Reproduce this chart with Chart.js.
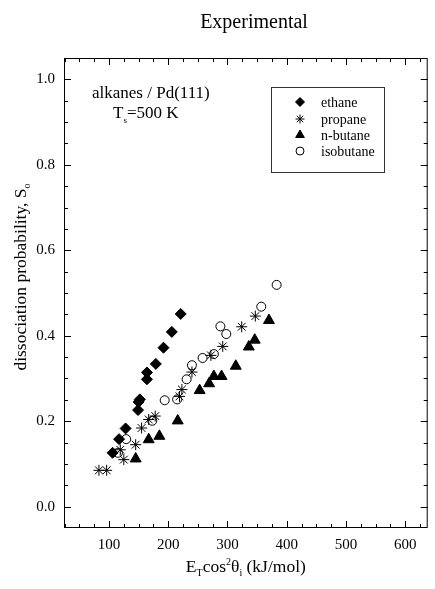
<!DOCTYPE html>
<html>
<head>
<meta charset="utf-8">
<title>Experimental</title>
<script src="https://cdn.jsdelivr.net/npm/chart.js@4.4.1/dist/chart.umd.min.js"></script>
<style>
  html, body { margin: 0; padding: 0; background: #fff; }
  #wrap { width: 435px; height: 589px; }
</style>
</head>
<body>
<div id="wrap"><canvas id="dissociationChart" width="435" height="589"></canvas></div>
<script>
// Values (E_T cos^2 theta_i in kJ/mol, S_o)
const ethaneX = [106, 117, 128, 149, 152, 150, 164, 164, 179, 192, 206, 221];
const ethaneY = [0.126, 0.158, 0.183, 0.226, 0.251, 0.245, 0.298, 0.314, 0.334, 0.372, 0.409, 0.451];

const propaneX = [83, 96, 119, 125, 145, 155, 167, 178, 219, 223, 240, 272, 292, 324, 347];
const propaneY = [0.085, 0.085, 0.133, 0.110, 0.145, 0.184, 0.204, 0.212, 0.258, 0.274, 0.315, 0.354, 0.375, 0.421, 0.446];

const nbutaneX = [145, 167, 185, 216, 253, 269, 277, 290, 314, 336, 346, 370];
const nbutaneY = [0.112, 0.157, 0.165, 0.201, 0.272, 0.288, 0.305, 0.305, 0.329, 0.374, 0.390, 0.436];

const isobutaneX = [115, 129, 173, 194, 215, 231, 240, 258, 277, 288, 298, 357, 383];
const isobutaneY = [0.126, 0.158, 0.201, 0.249, 0.251, 0.298, 0.331, 0.348, 0.357, 0.422, 0.404, 0.468, 0.519];

const seriesNames = ['ethane', 'propane', 'n-butane', 'isobutane'];
const xTickValues = [100, 200, 300, 400, 500, 600];
const yTickValues = [0.0, 0.2, 0.4, 0.6, 0.8, 1.0];

const serif = "'Liberation Serif', 'DejaVu Serif', serif";

function toPoints(xs, ys) {
  return xs.map((x, i) => ({ x: x, y: ys[i] }));
}

// draw a run of text pieces (sub/superscripts) starting at x
function drawRuns(ctx, runs, x, y) {
  let cx = x;
  runs.forEach(r => {
    ctx.font = r.size + 'px ' + serif;
    ctx.fillText(r.t, cx, y + (r.dy || 0));
    cx += ctx.measureText(r.t).width;
  });
}

function runsWidth(ctx, runs) {
  let w = 0;
  runs.forEach(r => {
    ctx.font = r.size + 'px ' + serif;
    w += ctx.measureText(r.t).width;
  });
  return w;
}

// frame with inward ticks on all four sides
const frameTicks = {
  id: 'frameTicks',
  afterDraw(chart) {
    const { ctx, chartArea: a, scales: { x, y } } = chart;
    ctx.save();
    ctx.strokeStyle = '#000';
    ctx.lineWidth = 1;
    ctx.strokeRect(a.left + 0.5, a.top + 0.5, a.right - a.left - 1, a.bottom - a.top - 1);
    ctx.beginPath();
    for (let v = 25; v < x.max; v += 25) {
      if (v <= x.min) continue;
      const px = Math.round(x.getPixelForValue(v)) + 0.5;
      const len = v % 100 === 0 ? 7 : 4;
      ctx.moveTo(px, a.bottom); ctx.lineTo(px, a.bottom - len);
      ctx.moveTo(px, a.top); ctx.lineTo(px, a.top + len);
    }
    for (let i = 0; i <= 20; i++) {
      const py = Math.round(y.getPixelForValue(i * 0.05)) + 0.5;
      const len = i % 4 === 0 ? 7 : 4;
      ctx.moveTo(a.left, py); ctx.lineTo(a.left + len, py);
      ctx.moveTo(a.right, py); ctx.lineTo(a.right - len, py);
    }
    ctx.stroke();
    ctx.restore();
  }
};

// titles, annotation and boxed legend
const labels = {
  id: 'labels',
  afterDraw(chart) {
    const { ctx, chartArea: a } = chart;
    ctx.save();
    ctx.fillStyle = '#000';
    ctx.textBaseline = 'alphabetic';

    ctx.textAlign = 'center';
    ctx.font = '20px ' + serif;
    ctx.fillText('Experimental', 254, 28);

    ctx.textAlign = 'left';
    const xTitle = [
      { t: 'E', size: 17.5 }, { t: 'T', size: 10, dy: 4 }, { t: 'cos', size: 17.5 },
      { t: '2', size: 10, dy: -7 }, { t: '\u03b8', size: 17.5 }, { t: 'i', size: 10, dy: 4 },
      { t: ' (kJ/mol)', size: 17.5 }
    ];
    const cx = (a.left + a.right) / 2;
    drawRuns(ctx, xTitle, cx - runsWidth(ctx, xTitle) / 2, 572);

    const yTitle = [{ t: 'dissociation probability, S', size: 17.5 }, { t: 'o', size: 10, dy: 4 }];
    ctx.save();
    ctx.translate(26, 277);
    ctx.rotate(-Math.PI / 2);
    drawRuns(ctx, yTitle, -runsWidth(ctx, yTitle) / 2, 0);
    ctx.restore();

    ctx.font = '17px ' + serif;
    ctx.fillText('alkanes / Pd(111)', 92, 98);
    drawRuns(ctx, [{ t: 'T', size: 17 }, { t: 's', size: 9, dy: 5 }, { t: '=500 K', size: 17 }], 113, 118);

    // legend
    ctx.strokeStyle = '#333';
    ctx.lineWidth = 1;
    ctx.strokeRect(271.5, 87.5, 113, 85);
    const rowY = [102, 119, 135, 151];
    const sizes = [4.5, 4.5, 5, 4];
    chart.data.datasets.forEach((ds, i) => {
      ctx.fillStyle = ds.backgroundColor;
      ctx.strokeStyle = ds.borderColor;
      ctx.lineWidth = 1;
      Chart.helpers.drawPoint(ctx, {
        pointStyle: ds.pointStyle, radius: sizes[i], rotation: 0, borderWidth: 1
      }, 300, rowY[i]);
      ctx.fillStyle = '#000';
      ctx.font = '14px ' + serif;
      ctx.fillText(seriesNames[i], 321, rowY[i] + 4.5);
    });
    ctx.restore();
  }
};

function initializeChart() {
  const ctx = document.getElementById('dissociationChart');
  if (!ctx) return;

  new Chart(ctx, {
    type: 'scatter',
    data: {
      datasets: [
        {
          label: seriesNames[0],
          data: toPoints(ethaneX, ethaneY),
          pointStyle: 'rectRot',
          pointRadius: 5.5,
          backgroundColor: '#000',
          borderColor: '#000',
          borderWidth: 1
        },
        {
          label: seriesNames[1],
          data: toPoints(propaneX, propaneY),
          pointStyle: 'star',
          pointRadius: 5.5,
          backgroundColor: '#000',
          borderColor: '#000',
          borderWidth: 1
        },
        {
          label: seriesNames[2],
          data: toPoints(nbutaneX, nbutaneY),
          pointStyle: 'triangle',
          pointRadius: 6.3,
          backgroundColor: '#000',
          borderColor: '#000',
          borderWidth: 1
        },
        {
          label: seriesNames[3],
          data: toPoints(isobutaneX, isobutaneY),
          pointStyle: 'circle',
          pointRadius: 4.5,
          backgroundColor: '#fff',
          borderColor: '#000',
          borderWidth: 1
        }
      ]
    },
    options: {
      responsive: false,
      animation: false,
      events: [],
      layout: { padding: { left: 0, right: 6, top: 58, bottom: 0 } },
      plugins: {
        legend: { display: false },
        title: { display: false },
        tooltip: { enabled: false }
      },
      scales: {
        x: {
          type: 'linear',
          min: 24,
          max: 638,
          afterBuildTicks: s => { s.ticks = xTickValues.map(v => ({ value: v })); },
          afterFit: s => { s.height = 61; },
          grid: { display: false, drawTicks: false },
          border: { display: false },
          ticks: {
            padding: 8,
            color: '#000',
            font: { family: serif, size: 15 },
            maxRotation: 0,
            callback: v => String(v)
          }
        },
        y: {
          type: 'linear',
          min: -0.05,
          max: 1.05,
          afterBuildTicks: s => { s.ticks = yTickValues.map(v => ({ value: v })); },
          afterFit: s => { s.width = 64; },
          grid: { display: false, drawTicks: false },
          border: { display: false },
          ticks: {
            padding: 9,
            color: '#000',
            font: { family: serif, size: 15 },
            callback: v => Number(v).toFixed(1)
          }
        }
      }
    },
    plugins: [frameTicks, labels]
  });
}

document.addEventListener('DOMContentLoaded', initializeChart);
</script>
</body>
</html>
